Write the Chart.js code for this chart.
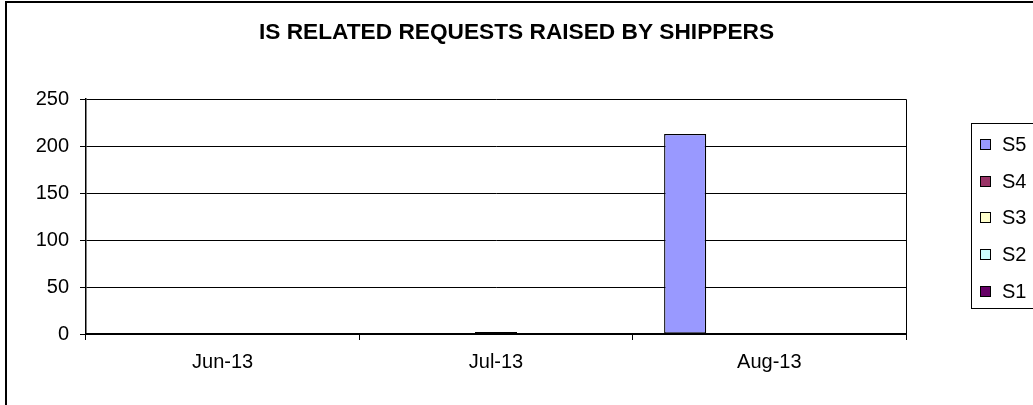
<!DOCTYPE html>
<html>
<head>
<meta charset="utf-8">
<script src="https://cdn.jsdelivr.net/npm/chart.js@4/dist/chart.umd.min.js"></script>
<style>
  html, body { margin: 0; padding: 0; background: #fff; }
  #wrap { width: 1033px; height: 405px; }
</style>
</head>
<body>
<div id="wrap"><canvas id="c" width="1033" height="405"></canvas></div>
<script>
// data (series in the order Excel plots them)
const months = ['Jun-13', 'Jul-13', 'Aug-13'];
const s5 = [0, 0, 213];
const s4 = [0, 0, 0];
const s3 = [0, 2, 0];
const s2 = [0, 0, 0];
const s1 = [0, 0, 0];
const seriesNames = ['S5', 'S4', 'S3', 'S2', 'S1'];
const seriesColors = ['#9999FF', '#993366', '#FFFFCC', '#CCFFFF', '#660066'];
const yTicks = [0, 50, 100, 150, 200, 250];

const FONT = 'Arial, "Liberation Sans", sans-serif';

// outer frame + plot border on the right side
const framePlugin = {
    id: 'frame',
    afterDraw(chart) {
        const ctx = chart.ctx;
        const a = chart.chartArea;
        ctx.save();
        ctx.strokeStyle = '#000';
        ctx.lineWidth = 2;
        ctx.strokeRect(6, 2, 1100, 500);
        ctx.lineWidth = 1;
        ctx.beginPath();
        ctx.moveTo(Math.round(a.right) + 0.5, a.top);
        ctx.lineTo(Math.round(a.right) + 0.5, a.bottom);
        ctx.stroke();
        ctx.restore();
    }
};

// excel style legend with a box
const boxLegend = {
    id: 'boxLegend',
    afterDraw(chart) {
        const ctx = chart.ctx;
        const sets = chart.data.datasets;
        ctx.save();
        ctx.strokeStyle = '#000';
        ctx.lineWidth = 1;
        ctx.strokeRect(971.5, 123.5, 100, 185);
        ctx.font = '20px ' + FONT;
        ctx.textBaseline = 'middle';
        sets.forEach((ds, i) => {
            const y = 144.5 + i * 36.7;
            const top = Math.round(y - 5.5);
            ctx.fillStyle = ds.backgroundColor;
            ctx.fillRect(980, top, 11, 11);
            ctx.strokeRect(980.5, top + 0.5, 10, 10);
            ctx.fillStyle = '#000';
            ctx.fillText(ds.label, 1002, y + 1);
        });
        ctx.restore();
    }
};

const allData = [s5, s4, s3, s2, s1];

new Chart(document.getElementById('c'), {
    type: 'bar',
    data: {
        labels: months,
        datasets: seriesNames.map((name, i) => ({
            label: name,
            data: allData[i],
            backgroundColor: seriesColors[i],
            borderColor: '#000',
            borderWidth: 1.3,
            borderSkipped: false,
            categoryPercentage: 0.77,
            barPercentage: 1
        }))
    },
    options: {
        responsive: false,
        animation: false,
        layout: { padding: 0 },
        plugins: {
            legend: { display: false },
            tooltip: { enabled: false },
            title: {
                display: true,
                text: 'IS RELATED REQUESTS RAISED BY SHIPPERS',
                color: '#000',
                font: { family: FONT, size: 22.7, weight: 'bold' },
                padding: { top: 19, bottom: 53 }
            }
        },
        scales: {
            x: {
                offset: true,
                grid: {
                    offset: true,
                    drawOnChartArea: false,
                    drawTicks: true,
                    tickLength: 6,
                    color: '#000'
                },
                border: { display: true, color: '#000', width: 2 },
                ticks: {
                    color: '#000',
                    font: { family: FONT, size: 20 },
                    padding: 10,
                    maxRotation: 0
                },
                afterFit(scale) { scale.height = 71; }
            },
            y: {
                min: 0,
                max: 250,
                afterBuildTicks(scale) {
                    scale.ticks = yTicks.map(v => ({ value: v }));
                },
                grid: {
                    color: '#000',
                    lineWidth: 1,
                    tickLength: 6,
                    drawTicks: true
                },
                border: { display: true, color: '#000', width: 1.5 },
                ticks: {
                    color: '#000',
                    font: { family: FONT, size: 20 },
                    padding: 11
                },
                afterFit(scale) { scale.width = 86; }
            },
            // empty axis that just reserves the legend column
            legendSpace: {
                type: 'linear',
                position: 'right',
                grid: { display: false },
                border: { display: false },
                ticks: { display: false },
                afterFit(scale) { scale.width = 127; }
            }
        }
    },
    plugins: [framePlugin, boxLegend]
});
</script>
</body>
</html>
